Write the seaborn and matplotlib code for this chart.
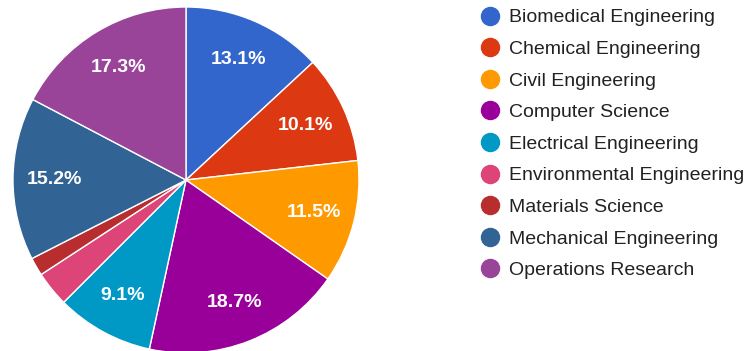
import matplotlib
matplotlib.use("Agg")
import matplotlib.pyplot as plt
from matplotlib.lines import Line2D
import seaborn as sns

departments = [
    "Biomedical Engineering",
    "Chemical Engineering",
    "Civil Engineering",
    "Computer Science",
    "Electrical Engineering",
    "Environmental Engineering",
    "Materials Science",
    "Mechanical Engineering",
    "Operations Research",
]
shares = [13.1, 10.1, 11.5, 18.7, 9.1, 3.3, 1.7, 15.2, 17.3]
colors = ["#3366cc", "#dc3912", "#ff9900", "#990099", "#0099c6",
          "#dd4477", "#b82e2e", "#316395", "#994499"]

sns.set_theme(style="white")
plt.rcParams["font.family"] = ["Liberation Sans", "DejaVu Sans"]
palette = sns.color_palette(colors)

W, H = 748, 351
fig = plt.figure(figsize=(W / 100, H / 100), dpi=100)
ax = fig.add_axes([13 / W, -2 / H, 346 / W, 346 / H])


def pct_label(p):
    return f"{p:.1f}%" if p >= 5 else ""


wedges, texts, autotexts = ax.pie(
    shares,
    colors=palette,
    startangle=90,
    counterclock=False,
    autopct=pct_label,
    pctdistance=0.76,
    wedgeprops=dict(edgecolor="white", linewidth=1.0),
    textprops=dict(color="white", fontsize=14, fontweight="bold"),
)
ax.set_xlim(-1, 1)
ax.set_ylim(-1, 1)
ax.set_aspect("equal")
ax.axis("off")

handles = [
    Line2D([0], [0], marker="o", linestyle="", markersize=13,
           markerfacecolor=c, markeredgecolor=c)
    for c in palette
]
leg = fig.legend(
    handles, departments,
    loc="upper left",
    bbox_to_anchor=(470 / W, 1 - 1 / H),
    frameon=False,
    fontsize=14,
    handletextpad=0.3,
    labelspacing=0.72,
    handlelength=1.3,
    borderaxespad=0,
)
for t in leg.get_texts():
    t.set_color("#222222")

fig.savefig("out.png", dpi=100)
